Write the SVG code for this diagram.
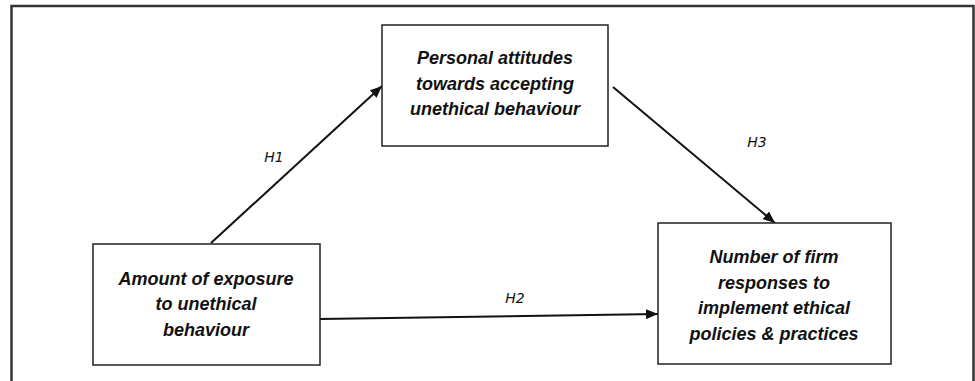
<svg xmlns="http://www.w3.org/2000/svg" width="975" height="381" viewBox="0 0 975 381">
<defs>
<style>
.box{fill:#fff;stroke:#222;stroke-width:1.5}
.t{font-family:"Liberation Sans",Arial,sans-serif;font-weight:bold;font-style:italic;font-size:18px;fill:#111;text-anchor:middle}
.h{font-family:"DejaVu Sans","Liberation Sans",sans-serif;font-style:italic;font-size:14px;fill:#111;text-anchor:middle}
.c{stroke:#111;stroke-width:2;fill:none}
</style>
<marker id="ah" viewBox="0 0 12 10" refX="12" refY="5" markerWidth="12" markerHeight="10" markerUnits="userSpaceOnUse" orient="auto">
<path d="M0,0 L12,5 L0,10 z" fill="#111"/>
</marker>
</defs>
<rect width="975" height="381" fill="#fff"/>
<path d="M11.5,381 V6 H973.5 V381" fill="none" stroke="#333" stroke-width="2.5"/>
<g id="connectors">
<line class="c" x1="211" y1="243" x2="382" y2="86" marker-end="url(#ah)"/>
<line class="c" x1="613" y1="87" x2="775" y2="223" marker-end="url(#ah)"/>
<line class="c" x1="320" y1="319" x2="658" y2="314" marker-end="url(#ah)"/>
<text class="h" x="274" y="162">H1</text>
<text class="h" x="757" y="147">H3</text>
<text class="h" x="515" y="303">H2</text>
</g>
<g id="attitudes">
<rect class="box" x="382" y="25" width="226" height="121"/>
<text class="t" x="495" y="64">Personal attitudes</text>
<text class="t" x="495" y="90">towards accepting</text>
<text class="t" x="495" y="115">unethical behaviour</text>
</g>
<g id="exposure">
<rect class="box" x="93" y="244" width="227" height="121"/>
<text class="t" x="206" y="285">Amount of exposure</text>
<text class="t" x="206" y="310">to unethical</text>
<text class="t" x="206" y="336">behaviour</text>
</g>
<g id="responses">
<rect class="box" x="658" y="223" width="233" height="141"/>
<text class="t" x="774" y="263">Number of firm</text>
<text class="t" x="774" y="289">responses to</text>
<text class="t" x="774" y="314">implement ethical</text>
<text class="t" x="774" y="340">policies &amp; practices</text>
</g>
</svg>
